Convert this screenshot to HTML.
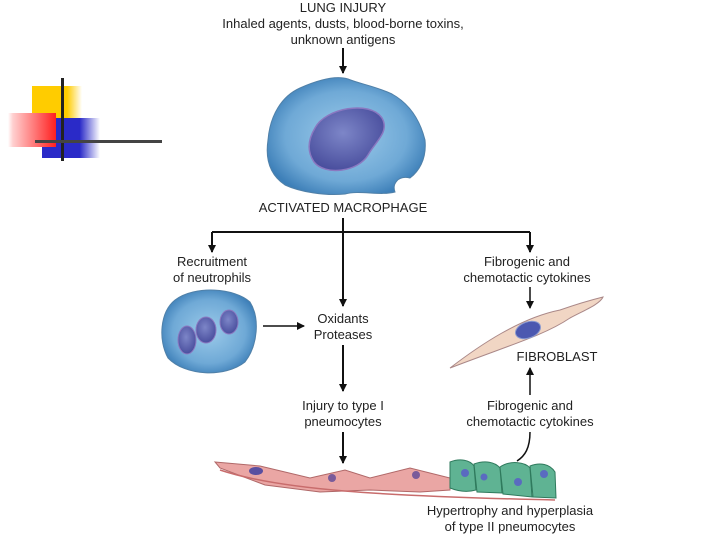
<!DOCTYPE html>
<html><head><style>
body{margin:0;width:720px;height:540px;background:#fff;overflow:hidden;position:relative;font-family:"Liberation Sans",sans-serif;}
.t{position:absolute;font-size:13px;color:#222;text-align:center;line-height:16px;transform:translateX(-50%);white-space:nowrap;}
</style></head><body>
<div style="position:absolute;left:32px;top:86px;width:50px;height:36px;background:linear-gradient(90deg,#ffcc00 70%,#fff);"></div>
<div style="position:absolute;left:42px;top:118px;width:58px;height:40px;background:linear-gradient(90deg,#2a2ac8 65%,#fff);"></div>
<div style="position:absolute;left:8px;top:113px;width:48px;height:34px;background:linear-gradient(270deg,#ff2020,#ffd0d0 90%,#fff);"></div>
<div style="position:absolute;left:61px;top:78px;width:3px;height:83px;background:#222;"></div>
<div style="position:absolute;left:35px;top:140px;width:127px;height:3px;background:#444;"></div>

<div class="t" style="left:343px;top:0px;">LUNG INJURY<br>Inhaled agents, dusts, blood-borne toxins,<br>unknown antigens</div>
<div class="t" style="left:343px;top:200px;">ACTIVATED MACROPHAGE</div>
<div class="t" style="left:212px;top:254px;">Recruitment<br>of neutrophils</div>
<div class="t" style="left:527px;top:254px;">Fibrogenic and<br>chemotactic cytokines</div>
<div class="t" style="left:343px;top:311px;">Oxidants<br>Proteases</div>
<div class="t" style="left:557px;top:349px;">FIBROBLAST</div>
<div class="t" style="left:343px;top:398px;">Injury to type I<br>pneumocytes</div>
<div class="t" style="left:530px;top:398px;">Fibrogenic and<br>chemotactic cytokines</div>
<div class="t" style="left:510px;top:503px;">Hypertrophy and hyperplasia<br>of type II pneumocytes</div>

<svg width="720" height="540" style="position:absolute;left:0;top:0">
<defs>
<marker id="a" markerWidth="8" markerHeight="8" refX="7" refY="4" orient="auto" markerUnits="userSpaceOnUse"><path d="M0,0L8,4L0,8z" fill="#111"/></marker>
<radialGradient id="mg" cx="50%" cy="50%" r="55%"><stop offset="0" stop-color="#9ccbea"/><stop offset="0.7" stop-color="#6fa9d6"/><stop offset="1" stop-color="#3d7fb8"/></radialGradient>
<radialGradient id="ng" cx="45%" cy="40%" r="60%"><stop offset="0" stop-color="#7d86c8"/><stop offset="1" stop-color="#4a4f9e"/></radialGradient>
</defs>
<g stroke="#111" stroke-width="2" fill="none">
<line x1="343" y1="48" x2="343" y2="73" marker-end="url(#a)"/>
<line x1="343" y1="218" x2="343" y2="232"/>
<line x1="212" y1="232" x2="530" y2="232"/>
<line x1="212" y1="232" x2="212" y2="252" marker-end="url(#a)"/>
<line x1="343" y1="232" x2="343" y2="306" marker-end="url(#a)"/>
<line x1="530" y1="232" x2="530" y2="252" marker-end="url(#a)"/>
<line x1="530" y1="287" x2="530" y2="308" stroke-width="1.5" marker-end="url(#a)"/>
<line x1="263" y1="326" x2="304" y2="326" stroke-width="1.5" marker-end="url(#a)"/>
<line x1="343" y1="345" x2="343" y2="391" marker-end="url(#a)"/>
<line x1="343" y1="432" x2="343" y2="463" marker-end="url(#a)"/>
<line x1="530" y1="395" x2="530" y2="368" stroke-width="1.5" marker-end="url(#a)"/>
<path d="M530,432 C530,448 525,456 517,461" stroke-width="1.5"/>
</g>
<path d="M300,88 C318,80 335,75 348,79 C360,84 375,86 392,94 C410,104 420,120 425,140 C427,160 418,172 410,178 C398,175 392,184 395,192 C380,196 360,190 345,194 C325,196 300,192 285,185 C270,175 265,160 268,140 C270,115 282,96 300,88Z" fill="url(#mg)" stroke="#5080a8"/>
<path d="M315,128 C325,108 370,100 382,118 C390,132 375,142 368,155 C358,172 325,176 314,162 C306,150 309,138 315,128Z" fill="url(#ng)" stroke="#8a78c0" stroke-width="1.5"/>
<path d="M175,300 C195,285 235,288 250,302 C260,318 258,345 245,362 C225,378 185,376 168,358 C158,340 160,312 175,300Z" fill="url(#mg)" stroke="#5080a8"/>
<ellipse cx="187" cy="340" rx="9" ry="14" fill="url(#ng)" stroke="#8a78c0"/>
<ellipse cx="206" cy="330" rx="10" ry="13" fill="url(#ng)" stroke="#8a78c0"/>
<ellipse cx="229" cy="322" rx="9" ry="12" fill="url(#ng)" stroke="#8a78c0"/>
<path d="M450,368 C480,345 520,318 560,310 C580,303 595,299 603,297 C600,304 585,310 570,318 C545,335 510,345 450,368Z" fill="#f1d6c4" stroke="#a88"/>
<ellipse cx="528" cy="330" rx="13" ry="8" fill="#4c58b0" stroke="#8a9ad0" transform="rotate(-20 528 330)"/>
<path d="M215,462 L260,466 L310,478 L345,470 L370,478 L410,468 L450,478 L450,490 L420,492 L370,490 L320,492 L265,485 L220,468Z" fill="#eaa6a4" stroke="#b06868"/>
<path d="M220,470 C280,490 380,496 555,500" fill="none" stroke="#c86c6c" stroke-width="1.5"/>
<ellipse cx="256" cy="471" rx="7" ry="4" fill="#5a4fa0"/>
<circle cx="332" cy="478" r="4" fill="#7a5b9a"/><circle cx="416" cy="475" r="4" fill="#7a5b9a"/>
<g fill="#5fb393" stroke="#2f7a5d">
<path d="M450,462 C460,458 470,460 474,466 L476,490 C465,493 455,490 450,488Z"/>
<path d="M474,464 C485,460 495,462 500,468 L502,493 L477,492Z"/>
<path d="M500,467 C510,460 525,462 530,468 L532,497 L503,494Z"/>
<path d="M530,466 C540,462 550,464 555,472 L556,498 L533,497Z"/>
</g>
<g fill="#5a6bc0"><circle cx="465" cy="473" r="4"/><circle cx="484" cy="477" r="3.5"/><circle cx="518" cy="482" r="4"/><circle cx="544" cy="474" r="4"/></g>
</svg>
</body></html>
